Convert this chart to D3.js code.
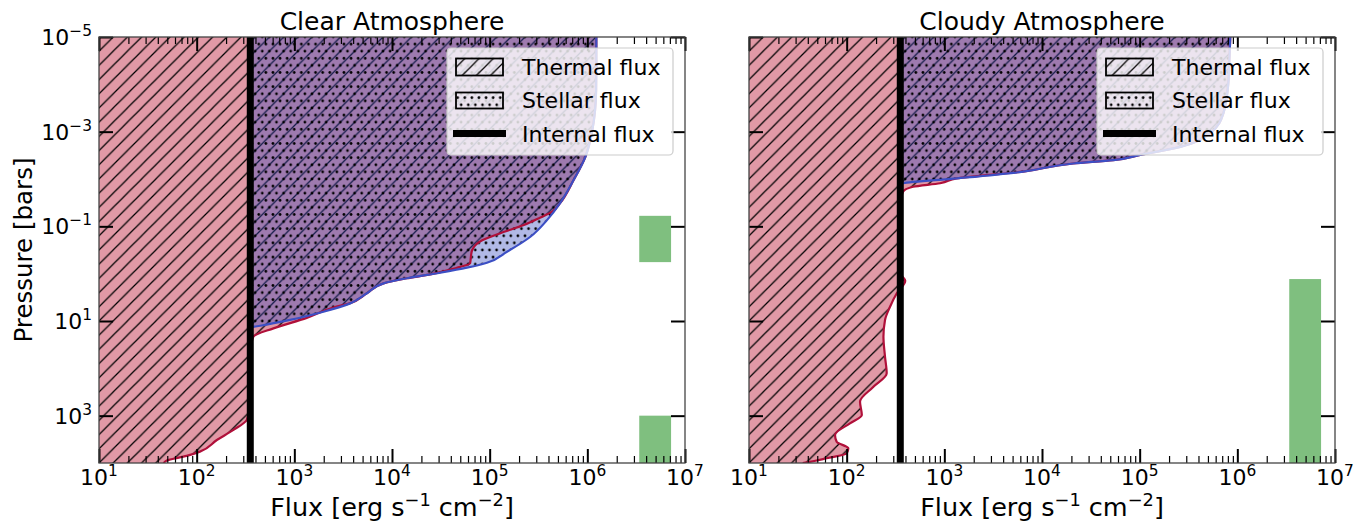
<!DOCTYPE html>
<html>
<head>
<meta charset="utf-8">
<script src="https://cdn.jsdelivr.net/npm/d3@7"></script>
<style>
  body { margin: 0; background: #fff; }
  svg text { font-family: "DejaVu Sans", sans-serif; fill: #000; }
</style>
</head>
<body>
<svg id="chart" width="1368" height="525"></svg>
<script>
// ---- Data -------------------------------------------------------------
const fluxDomain = [10, 1e7];          // erg s^-1 cm^-2
const pressureDomain = [1e-5, 1e4];    // bars (increasing downward)
const internalFlux = 354;

// Clear atmosphere: absorbed stellar flux (stacked on the internal flux)
const clearStellarP = [1e-5, 3.5e-5, 1.3e-4, 9.2e-4, 3.4e-3, 0.0105, 0.032, 0.074, 0.166, 0.344,
  0.587, 0.748, 0.955, 1.25, 1.6, 2.6, 4.24, 6.37, 9.5, 12.6, 13.5];
const clearStellarF = [1.236e6, 1.236e6, 1.23e6, 1.125e6, 9.55e5, 7.24e5, 5.28e5, 3.86e5, 2.61e5, 1.5e5,
  9.34e4, 5.81e4, 3.08e4, 1.39e4, 7830, 5180, 3380, 1630, 552, 93, 9];

// Clear atmosphere: net thermal flux
const clearThermalP = [1e-5, 3.5e-5, 1.3e-4, 9.2e-4, 3.4e-3, 0.0105, 0.032, 0.049, 0.065, 0.094,
  0.14, 0.21, 0.32, 0.40, 0.60, 0.72, 0.85, 1.05, 1.25, 1.6, 2.6, 4.24, 5.2, 8.6, 14.3, 21.5,
  40, 160, 630, 1230, 2000, 3270, 5750, 7080, 8910, 10000];
const clearThermalF = [1.236e6, 1.236e6, 1.23e6, 1.125e6, 9.55e5, 7.24e5, 5.28e5, 4.37e5, 3.31e5, 2.24e5,
  1.29e5, 7.94e4, 6.61e4, 6.46e4, 6.31e4, 5.01e4, 3.72e4, 2.4e4, 1.42e4, 8190, 5530, 3670, 2510, 1340, 611, 380,
  355, 355, 350, 326, 238, 161, 108, 79, 49, 46];

// Cloudy atmosphere: absorbed stellar flux
const cloudyStellarP = [1e-5, 3.1e-5, 9.3e-5, 4.1e-4, 1.07e-3, 2.1e-3, 3.1e-3, 4.0e-3, 4.7e-3, 7.0e-3,
  9.7e-3, 0.0123, 0.0129];
const cloudyStellarF = [8.47e5, 8.28e5, 8.09e5, 7.19e5, 5.28e5, 2.61e5, 1.01e5, 5.34e4, 2.05e4, 6060,
  990, 26, 3];

// Cloudy atmosphere: net thermal flux
const cloudyThermalP = [1e-5, 3.1e-5, 9.3e-5, 4.1e-4, 1.07e-3, 2.1e-3, 3.1e-3, 4.0e-3, 4.7e-3, 7.0e-3,
  9.7e-3, 0.0123, 0.0146, 0.0185, 0.03, 0.1, 0.4, 1.0, 1.41, 2.6, 5.0, 9.5, 21.5, 57, 127, 245, 508,
  970, 1450, 2560, 3560, 4900, 6250, 7940, 9700, 10000];
const cloudyThermalF = [8.47e5, 8.28e5, 8.09e5, 7.19e5, 5.28e5, 2.61e5, 1.01e5, 5.37e4, 2.09e4, 6410,
  1340, 906, 479, 378, 355, 355, 355, 358, 398, 326, 278, 247, 238, 247, 257, 188, 137,
  143, 108, 76, 79, 104, 100, 62.5, 39, 35.5];

// Green bands: flux extent and pressure ranges
const bandFlux = [3.4e6, 7.2e6];
const clearBands = [[0.06, 0.57], [1000, 10000]];
const cloudyBands = [[1.3, 10000]];

// Axis ticks and labels
const xTickExponents = ["1", "2", "3", "4", "5", "6", "7"];
const yTickExponents = ["\u22125", "\u22123", "\u22121", "1", "3"];
const legendLabels = ["Thermal flux", "Stellar flux", "Internal flux"];
const titles = ["Clear Atmosphere", "Cloudy Atmosphere"];

// ---- Layout -----------------------------------------------------------
const W = 586, H = 426, TOP = 37;
const panelLefts = [99, 749];

const svg = d3.select("#chart");
const defs = svg.append("defs");

// Hatch patterns: "//" lines and staggered dots
const hs = 14.2;
const diag = defs.append("pattern").attr("id", "hatchDiag")
  .attr("patternUnits", "userSpaceOnUse").attr("width", hs).attr("height", hs);
diag.append("path")
  .attr("d", `M${-hs/4},${hs/4}L${hs/4},${-hs/4}M0,${hs}L${hs},0M${hs*3/4},${hs*5/4}L${hs*5/4},${hs*3/4}`)
  .attr("stroke", "#000").attr("stroke-width", 1.25).attr("fill", "none");

const ds = hs / 2;
const dots = defs.append("pattern").attr("id", "hatchDots")
  .attr("patternUnits", "userSpaceOnUse").attr("width", ds).attr("height", hs);
[[0, 0], [ds, 0], [0, hs], [ds, hs], [ds / 2, ds]].forEach(([cx, cy]) =>
  dots.append("circle").attr("cx", cx).attr("cy", cy).attr("r", 1.35).attr("fill", "#000"));

const x = d3.scaleLog().domain(fluxDomain).range([0, W]);
const y = d3.scaleLog().domain(pressureDomain).range([0, H]);

const majorX = xTickExponents.map(e => Math.pow(10, +e));
const minorX = [];
for (let n = 1; n < 7; n++) for (let k = 2; k <= 9; k++) minorX.push(k * Math.pow(10, n));
const majorY = yTickExponents.map(e => Math.pow(10, +e.replace("\u2212", "-")));

const pinkFill = "#e199a6";
const blueFill = "rgb(50,70,190)";
const redLine = "#b0103a";
const blueLine = "#3c4fc4";

const panelData = [
  { sp: clearStellarP, sf: clearStellarF, tp: clearThermalP, tf: clearThermalF, bands: clearBands },
  { sp: cloudyStellarP, sf: cloudyStellarF, tp: cloudyThermalP, tf: cloudyThermalF, bands: cloudyBands }
];

function supLabel(sel, base, exp, supSize, rise) {
  sel.append("tspan").text(base);
  sel.append("tspan").attr("dy", -rise).attr("font-size", supSize).text(exp);
}

panelData.forEach((pd, i) => {
  const g = svg.append("g").attr("transform", `translate(${panelLefts[i]},${TOP})`);
  const clipId = "clip" + i;
  defs.append("clipPath").attr("id", clipId).append("rect").attr("width", W).attr("height", H);
  const plot = g.append("g").attr("clip-path", `url(#${clipId})`);

  const thermal = pd.tp.map((p, j) => ({ p, f: pd.tf[j] }));
  const stellar = pd.sp.map((p, j) => ({ p, f: pd.sf[j] }));

  const thermalArea = d3.area().curve(d3.curveMonotoneY)
    .y(d => y(d.p)).x0(x(fluxDomain[0])).x1(d => x(d.f));
  const stellarArea = d3.area().curve(d3.curveMonotoneY)
    .y(d => y(d.p)).x0(x(internalFlux)).x1(d => x(internalFlux + d.f));
  const thermalLine = d3.line().curve(d3.curveMonotoneY).y(d => y(d.p)).x(d => x(d.f));
  const stellarLine = d3.line().curve(d3.curveMonotoneY).y(d => y(d.p)).x(d => x(internalFlux + d.f));

  // thermal flux region
  plot.append("path").attr("d", thermalArea(thermal)).attr("fill", pinkFill);
  plot.append("path").attr("d", thermalArea(thermal)).attr("fill", "url(#hatchDiag)");
  // stellar flux region on top of the internal flux
  plot.append("path").attr("d", stellarArea(stellar)).attr("fill", blueFill).attr("fill-opacity", 0.38);
  plot.append("path").attr("d", stellarArea(stellar)).attr("fill", "url(#hatchDots)");
  // outlines
  plot.append("path").attr("d", thermalLine(thermal)).attr("fill", "none")
    .attr("stroke", redLine).attr("stroke-width", 2.2);
  plot.append("path").attr("d", stellarLine(stellar)).attr("fill", "none")
    .attr("stroke", blueLine).attr("stroke-width", 2.2);

  // internal flux
  plot.append("line").attr("x1", x(internalFlux)).attr("x2", x(internalFlux))
    .attr("y1", 0).attr("y2", H).attr("stroke", "#000").attr("stroke-width", 7);

  // green bands
  plot.selectAll("rect.band").data(pd.bands).enter().append("rect").attr("class", "band")
    .attr("x", x(bandFlux[0])).attr("width", x(bandFlux[1]) - x(bandFlux[0]))
    .attr("y", d => y(d[0])).attr("height", d => y(d[1]) - y(d[0]))
    .attr("fill", "green").attr("fill-opacity", 0.5);

  // ticks (inward on all four sides)
  const styleAxis = (sel, w) => {
    sel.select(".domain").remove();
    sel.selectAll("text").remove();
    sel.selectAll("line").attr("stroke", "#000").attr("stroke-width", w);
  };
  g.append("g").attr("transform", `translate(0,${H})`)
    .call(d3.axisBottom(x).tickValues(minorX).tickSize(-7).tickFormat("")).call(s => styleAxis(s, 1.2));
  g.append("g").attr("transform", `translate(0,${H})`)
    .call(d3.axisBottom(x).tickValues(majorX).tickSize(-14).tickFormat("")).call(s => styleAxis(s, 2));
  g.append("g")
    .call(d3.axisTop(x).tickValues(minorX).tickSize(-7).tickFormat("")).call(s => styleAxis(s, 1.2));
  g.append("g")
    .call(d3.axisTop(x).tickValues(majorX).tickSize(-14).tickFormat("")).call(s => styleAxis(s, 2));
  g.append("g")
    .call(d3.axisLeft(y).tickValues(majorY).tickSize(-14).tickFormat("")).call(s => styleAxis(s, 2));
  g.append("g").attr("transform", `translate(${W},0)`)
    .call(d3.axisRight(y).tickValues(majorY).tickSize(-14).tickFormat("")).call(s => styleAxis(s, 2));

  // spines
  g.append("rect").attr("width", W).attr("height", H).attr("fill", "none")
    .attr("stroke", "#444").attr("stroke-width", 1.3);

  // x tick labels
  majorX.forEach((v, j) => {
    const t = g.append("text").attr("x", x(v)).attr("y", H + 22)
      .attr("text-anchor", "middle").attr("font-size", 22);
    supLabel(t, "10", xTickExponents[j], 15.4, 9);
  });
  // y tick labels (left panel only)
  if (i === 0) {
    majorY.forEach((v, j) => {
      const t = g.append("text").attr("x", -7).attr("y", y(v) + 8)
        .attr("text-anchor", "end").attr("font-size", 22);
      supLabel(t, "10", yTickExponents[j], 15.4, 9);
    });
    g.append("text").attr("transform", `translate(${-67},${H / 2}) rotate(-90)`)
      .attr("text-anchor", "middle").attr("font-size", 24.5).text("Pressure [bars]");
  }

  // title
  g.append("text").attr("x", W / 2).attr("y", -7).attr("text-anchor", "middle")
    .attr("font-size", 25).text(titles[i]);

  // x axis label
  const xl = g.append("text").attr("x", W / 2).attr("y", H + 53).attr("text-anchor", "middle")
    .attr("font-size", 25.5);
  xl.append("tspan").text("Flux [erg s");
  xl.append("tspan").attr("dy", -10).attr("font-size", 17.8).text("\u22121");
  xl.append("tspan").attr("dy", 10).text(" cm");
  xl.append("tspan").attr("dy", -10).attr("font-size", 17.8).text("\u22122");
  xl.append("tspan").attr("dy", 10).text("]");

  // legend
  const lg = g.append("g").attr("transform", "translate(348,11)");
  lg.append("rect").attr("width", 226).attr("height", 107).attr("rx", 4)
    .attr("fill", "#fff").attr("fill-opacity", 0.8).attr("stroke", "#ccc").attr("stroke-width", 1.2);
  const baselines = [26.5, 60, 93.5];
  lg.append("rect").attr("x", 9).attr("y", 10.5).attr("width", 47).attr("height", 17)
    .attr("fill", "url(#hatchDiag)").attr("stroke", "#000").attr("stroke-width", 1.8);
  lg.append("rect").attr("x", 9).attr("y", 44.5).attr("width", 47).attr("height", 16)
    .attr("fill", "url(#hatchDots)").attr("stroke", "#000").attr("stroke-width", 1.8);
  lg.append("line").attr("x1", 6).attr("x2", 59).attr("y1", 85.5).attr("y2", 85.5)
    .attr("stroke", "#000").attr("stroke-width", 7);
  legendLabels.forEach((lab, j) => {
    lg.append("text").attr("x", 75).attr("y", baselines[j]).attr("font-size", 22).text(lab);
  });
});
</script>
</body>
</html>
